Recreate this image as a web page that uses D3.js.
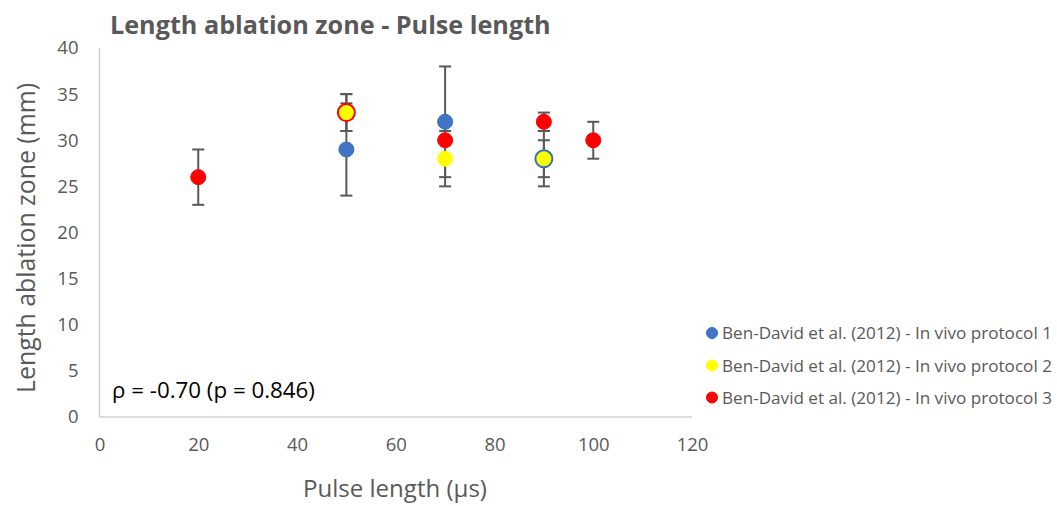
<!DOCTYPE html>
<html>
<head>
<meta charset="utf-8">
<script src="https://cdn.jsdelivr.net/npm/d3@7"></script>
<style>
  html, body { margin: 0; padding: 0; background: #ffffff; }
  svg { display: block; font-family: "Open Sans", "Noto Sans", sans-serif; }
</style>
</head>
<body>
<svg id="chart" width="1057" height="506"></svg>
<script>
// Ablation zone length vs pulse length, Ben-David et al. (2012), three in vivo protocols
const seriesNames = [
  "Ben-David et al. (2012) - In vivo protocol 1",
  "Ben-David et al. (2012) - In vivo protocol 2",
  "Ben-David et al. (2012) - In vivo protocol 3"
];
const seriesColors = ["#4472C4", "#FFFF00", "#FF0000"];
const seriesEdges  = ["#2E75B6", "#FFFF00", "#FF0000"];

// pulse length (µs), mean length (mm), error (± mm)
const p1Pulse = [50, 70, 90];
const p1Length = [29, 32, 28];
const p1Error = [5, 6, 3];

const p2Pulse = [50, 70, 90];
const p2Length = [33, 28, 28];
const p2Error = [2, 3, 2];

const p3Pulse = [20, 50, 70, 90, 100];
const p3Length = [26, 33, 30, 32, 30];
const p3Error = [3, 2, 0, 1, 2];

const xTicks = [0, 20, 40, 60, 80, 100, 120];
const yTicks = [0, 5, 10, 15, 20, 25, 30, 35, 40];

const titleText = "Length ablation zone - Pulse length";
const xTitle = "Pulse length (µs)";
const yTitle = "Length ablation zone (mm)";
const noteText = "ρ = -0.70 (p = 0.846)";

const series = [
  { name: seriesNames[0], pulse: p1Pulse, len: p1Length, err: p1Error, color: seriesColors[0], edge: seriesEdges[0] },
  { name: seriesNames[1], pulse: p2Pulse, len: p2Length, err: p2Error, color: seriesColors[1], edge: seriesEdges[1] },
  { name: seriesNames[2], pulse: p3Pulse, len: p3Length, err: p3Error, color: seriesColors[2], edge: seriesEdges[2] }
];
series.forEach((s, si) => {
  s.index = si;
  s.points = s.pulse.map((p, i) => ({ x: p, y: s.len[i], e: s.err[i], s }));
});

const svg = d3.select("#chart");
const textColor = "#595959";

const x = d3.scaleLinear().domain([0, 120]).range([99.5, 692]);
const y = d3.scaleLinear().domain([0, 40]).range([417, 48]);

// scale a text element's font so it spans the given width
function fitWidth(sel, w) {
  sel.style("font-size", "100px");
  const L = sel.node().getComputedTextLength();
  const fs = 100 * w / L;
  sel.style("font-size", fs + "px");
  return fs;
}

// axis lines
svg.append("line")
  .attr("x1", x(0)).attr("x2", x(0))
  .attr("y1", y(0)).attr("y2", y(40))
  .attr("stroke", "#d0d0d0").attr("stroke-width", 1.5);
svg.append("line")
  .attr("x1", x(0)).attr("x2", x(120))
  .attr("y1", y(0)).attr("y2", y(0))
  .attr("stroke", "#d0d0d0").attr("stroke-width", 1.5);

// tick labels through d3 axes (domain and tick lines hidden)
const yAxis = svg.append("g")
  .attr("transform", `translate(${x(0)},0)`)
  .call(d3.axisLeft(y).tickValues(yTicks).tickSize(0).tickPadding(21).tickFormat(d3.format("d")));
yAxis.select(".domain").remove();
yAxis.selectAll("text")
  .attr("fill", textColor)
  .style("font-family", "'Open Sans', sans-serif")
  .style("font-size", "18.5px");

const xAxis = svg.append("g")
  .attr("transform", `translate(0,${y(0)})`)
  .call(d3.axisBottom(x).tickValues(xTicks).tickSize(0).tickPadding(21).tickFormat(d3.format("d")));
xAxis.select(".domain").remove();
xAxis.selectAll("text")
  .attr("fill", textColor)
  .style("font-family", "'Open Sans', sans-serif")
  .style("font-size", "18.5px");

// title
const title = svg.append("text")
  .attr("x", 110)
  .attr("fill", textColor)
  .style("font-weight", "bold")
  .text(titleText);
let fs = fitWidth(title, 441);
title.attr("y", 25 + 0.357 * fs);

// axis titles
const xt = svg.append("text")
  .attr("x", 395)
  .attr("text-anchor", "middle")
  .attr("fill", textColor)
  .text(xTitle);
fs = fitWidth(xt, 184);
xt.attr("y", 488 + 0.357 * fs);

const yt = svg.append("text")
  .attr("text-anchor", "middle")
  .attr("fill", textColor)
  .text(yTitle);
fs = fitWidth(yt, 310);
yt.attr("transform", `translate(${26 + 0.357 * fs},238) rotate(-90)`);

// correlation note
const note = svg.append("text")
  .attr("x", 112)
  .attr("fill", "#000000")
  .text(noteText);
fs = fitWidth(note, 203);
note.attr("y", 390 + 0.357 * fs);

// error bars beneath markers
const allPoints = series.flatMap(s => s.points);
const capHalf = 6;
const bars = svg.append("g")
  .attr("stroke", "#595959")
  .attr("stroke-width", 2);
allPoints.filter(p => p.e > 0).forEach(p => {
  const cx = x(p.x);
  bars.append("line").attr("x1", cx).attr("x2", cx).attr("y1", y(p.y - p.e)).attr("y2", y(p.y + p.e));
  bars.append("line").attr("x1", cx - capHalf).attr("x2", cx + capHalf).attr("y1", y(p.y + p.e)).attr("y2", y(p.y + p.e));
  bars.append("line").attr("x1", cx - capHalf).attr("x2", cx + capHalf).attr("y1", y(p.y - p.e)).attr("y2", y(p.y - p.e));
});

// markers: protocol 1, then 3, then 2 on top; a yellow point that sits on
// another series' point is drawn larger, ringed in that series' colour
const drawOrder = [series[0], series[2], series[1]];
const marks = svg.append("g");
drawOrder.forEach(s => {
  s.points.forEach(p => {
    let r = 7.5, stroke = s.edge, sw = 1;
    if (s.index === 1) {
      const under = allPoints.find(q => q.s !== s && q.x === p.x && q.y === p.y);
      if (under) { r = 8.5; stroke = under.s.edge; sw = 2; }
    }
    marks.append("circle")
      .attr("cx", x(p.x)).attr("cy", y(p.y))
      .attr("r", r)
      .attr("fill", s.color)
      .attr("stroke", stroke)
      .attr("stroke-width", sw);
  });
});

// legend
const legendRows = [333, 365.5, 397.5];
const legend = svg.append("g");
series.forEach((s, i) => {
  legend.append("circle")
    .attr("cx", 712).attr("cy", legendRows[i]).attr("r", 5.5)
    .attr("fill", s.color).attr("stroke", s.edge).attr("stroke-width", 1);
  const t = legend.append("text")
    .attr("x", 722)
    .attr("fill", textColor)
    .text(s.name);
  const f = fitWidth(t, 330);
  t.attr("y", legendRows[i] + 0.357 * f);
});
</script>
</body>
</html>
